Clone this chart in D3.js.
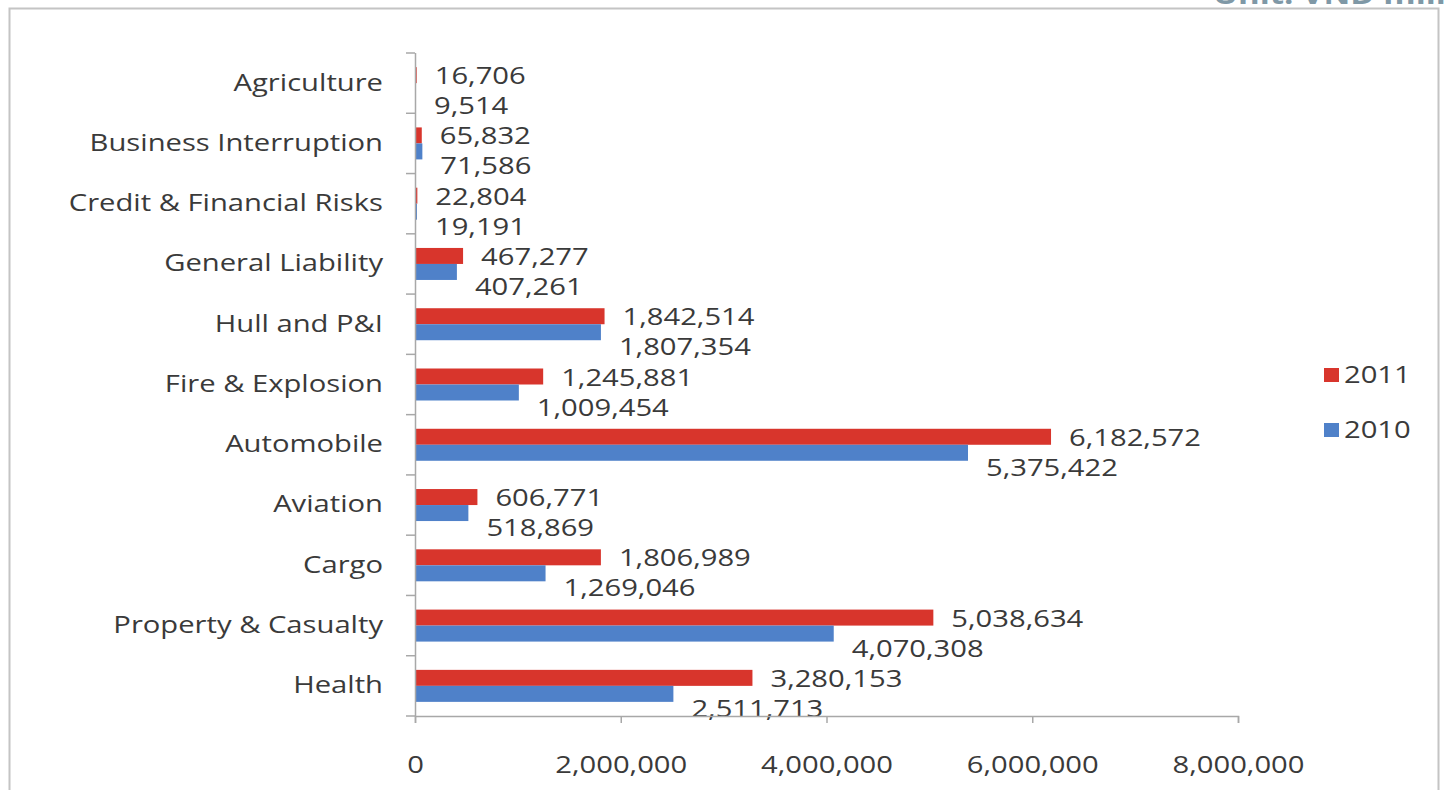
<!DOCTYPE html>
<html>
<head>
<meta charset="utf-8">
<script src="https://cdn.jsdelivr.net/npm/d3@7"></script>
<style>
  html, body { margin: 0; padding: 0; background: #ffffff; }
  svg { display: block; }
  text { font-family: "Open Sans", sans-serif; fill: #3a3a3a; }
</style>
</head>
<body>
<svg id="chart" width="1446" height="790"></svg>
<script>
// ---- data ----
const categories = ["Agriculture", "Business Interruption", "Credit & Financial Risks", "General Liability",
  "Hull and P&I", "Fire & Explosion", "Automobile", "Aviation", "Cargo", "Property & Casualty", "Health"];
const seriesNames = ["2011", "2010"];
const values2011 = [16706, 65832, 22804, 467277, 1842514, 1245881, 6182572, 606771, 1806989, 5038634, 3280153];
const values2010 = [9514, 71586, 19191, 407261, 1807354, 1009454, 5375422, 518869, 1269046, 4070308, 2511713];
const xTicks = [0, 2000000, 4000000, 6000000, 8000000];
const unitText = "Unit: VND million";

// ---- layout / style ----
const W = 1446, H = 790;
const x0 = 415, x1 = 1238, yTop = 53, yBot = 716;
const colors = { "2011": "#d8352c", "2010": "#4f81c9" };
const FS = 23, SX = 1.27;   // font size and horizontal stretch
const barH = 16;

const svg = d3.select("#chart");

// frame
svg.append("path")
  .attr("d", `M9.5,${H} V8.5 H1438.5 V${H}`)
  .attr("fill", "none").attr("stroke", "#c4c4c4").attr("stroke-width", 2);

// unit text (clipped at top)
svg.append("text")
  .attr("transform", `translate(1213,4) scale(${SX},1)`)
  .style("font-size", "26px").style("font-weight", "bold")
  .style("fill", "#7f98a6")
  .text(unitText);

const x = d3.scaleLinear().domain([0, 8000000]).range([x0, x1]);
const y = d3.scaleBand().domain(categories).range([yTop, yBot]).padding(0);
const ys = d3.scaleBand().domain(seriesNames)
  .range([(y.bandwidth() - 2 * barH) / 2, (y.bandwidth() + 2 * barH) / 2]);

const data = categories.map((c, i) => ({ cat: c, vals: [
  { s: "2011", v: values2011[i] }, { s: "2010", v: values2010[i] } ] }));

// bars
const g = svg.append("g");
const groups = g.selectAll("g.cat").data(data).join("g")
  .attr("transform", d => `translate(0,${y(d.cat)})`);
groups.selectAll("rect").data(d => d.vals).join("rect")
  .attr("x", x(0))
  .attr("y", d => ys(d.s))
  .attr("width", d => x(d.v) - x(0))
  .attr("height", ys.bandwidth())
  .attr("fill", d => colors[d.s]);

// value labels
const fmt = d3.format(",");
const labelDy = { "2011": 1, "2010": 15 };
groups.selectAll("text.val").data(d => d.vals).join("text")
  .attr("class", "val")
  .attr("transform", d => `translate(${x(d.v) + 18},${ys(d.s) + ys.bandwidth() / 2 + labelDy[d.s]}) scale(${SX},1)`)
  .attr("dy", "0.35em")
  .style("font-size", FS + "px")
  .text(d => fmt(d.v));

// y axis
const yAxis = d3.axisLeft(y).tickSize(0).tickPadding(0);
const gy = svg.append("g").attr("transform", `translate(${x0},0)`).call(yAxis);
gy.select(".domain").remove();
gy.selectAll(".tick text")
  .attr("x", 0)
  .attr("transform", `translate(-32,0) scale(${SX},1)`)
  .style("font-size", FS + "px")
  .style("font-family", "Open Sans")
  .attr("fill", "#3a3a3a");
svg.append("line")
  .attr("x1", x0 + 0.5).attr("x2", x0 + 0.5).attr("y1", yTop).attr("y2", yBot)
  .attr("stroke", "#a8a8a8").attr("stroke-width", 1.5);
// category boundary ticks
const bounds = categories.map(c => y(c)).concat([yBot]);
svg.append("g").selectAll("line").data(bounds).join("line")
  .attr("x1", x0 - 9).attr("x2", x0)
  .attr("y1", d => d).attr("y2", d => d)
  .attr("stroke", "#a8a8a8").attr("stroke-width", 1.5);

// x axis
const xAxis = d3.axisBottom(x).tickValues(xTicks).tickFormat(d3.format(",")).tickSize(7).tickPadding(0);
const gx = svg.append("g").attr("transform", `translate(0,${yBot})`).call(xAxis);
gx.select(".domain").attr("stroke", "#a8a8a8").attr("stroke-width", 1.5);
gx.selectAll(".tick line").attr("stroke", "#a8a8a8").attr("stroke-width", 1.5);
gx.selectAll(".tick text")
  .attr("y", 0).attr("dy", 0)
  .attr("transform", `translate(0,57) scale(${SX},1)`)
  .style("font-size", FS + "px")
  .style("font-family", "Open Sans")
  .attr("fill", "#3a3a3a");

// legend
const legend = svg.append("g");
const legY = d3.scaleOrdinal().domain(seriesNames).range([375, 430]);
seriesNames.forEach(s => {
  legend.append("rect")
    .attr("x", 1324).attr("y", legY(s) - 7).attr("width", 15).attr("height", 14)
    .attr("fill", colors[s]);
  legend.append("text")
    .attr("transform", `translate(1344,${legY(s)}) scale(${SX},1)`)
    .attr("dy", "0.35em")
    .style("font-size", FS + "px")
    .text(s);
});
</script>
</body>
</html>
